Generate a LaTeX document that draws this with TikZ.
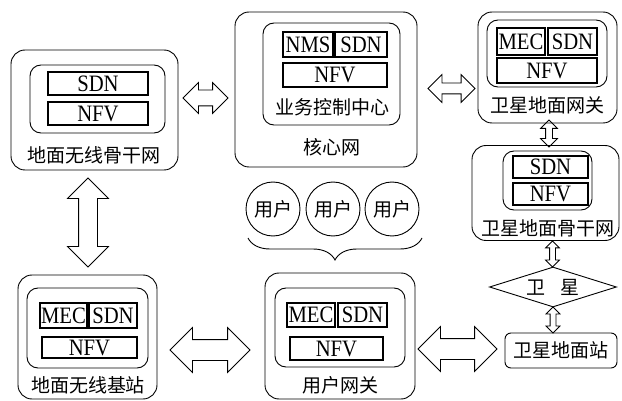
\documentclass[tikz,border=0pt]{standalone}
\usepackage{fontspec}
\setmainfont{Liberation Serif}[FakeStretch=0.88]
\newfontfamily\cjk{Noto Sans CJK SC}
\usetikzlibrary{shapes.arrows,shapes.geometric,decorations.pathreplacing}
\newcommand{\shaft}[1]{\rule{0pt}{#1pt}}
\begin{document}
\begin{tikzpicture}[x=1pt,y=-1pt,
  outerbox/.style={draw, line width=0.9pt, rounded corners=14pt, inner sep=0pt},
  innerbox/.style={draw, line width=0.9pt, rounded corners=11pt, inner sep=0pt},
  tag/.style={draw, line width=1.3pt, inner sep=0pt, font=\fontsize{23.5}{23.5}\selectfont},
  lbl/.style={inner sep=0pt, font=\cjk\fontsize{19}{19}\selectfont},
  user/.style={draw, circle, line width=0.9pt, minimum size=54pt, inner sep=0pt, font=\cjk\fontsize{19}{19}\selectfont},
  darr/.style={draw, line width=0.8pt, double arrow, double arrow tip angle=90, inner sep=0pt}
]
\useasboundingbox (0,0) rectangle (622,401);

% Box 1: ground wireless backbone
\node[outerbox, minimum width=167pt, minimum height=120pt] (b1) at (94.5,110) {};
\node[innerbox, minimum width=135pt, minimum height=68pt] (i1) at (97.5,99) {};
\node[tag, minimum width=100pt, minimum height=23pt] (s1) at (98,83.5) {SDN};
\node[tag, minimum width=100pt, minimum height=23pt] (n1) at (98,113.5) {NFV};
\node[lbl] (l1) at (94,155) {地面无线骨干网};

% Box 2: core network
\node[outerbox, minimum width=182pt, minimum height=155pt] (b2) at (326,89.5) {};
\node[innerbox, minimum width=137pt, minimum height=102pt] (i2) at (331.5,74) {};
\node[tag, minimum width=50pt, minimum height=25pt] (m2) at (308,44.5) {NMS};
\node[tag, minimum width=52pt, minimum height=25pt] (s2) at (361,44.5) {SDN};
\node[tag, minimum width=104pt, minimum height=24pt] (n2) at (335,75) {NFV};
\node[lbl] (c2) at (332,107) {业务控制中心};
\node[lbl] (l2) at (332,147) {核心网};

% Box 3: satellite ground gateway
\node[outerbox, minimum width=139pt, minimum height=111pt] (b3) at (547.5,67.5) {};
\node[innerbox, minimum width=120pt, minimum height=67pt] (i3) at (547,53.5) {};
\node[tag, minimum width=48pt, minimum height=27pt] (m3) at (521,41.5) {MEC};
\node[tag, minimum width=49pt, minimum height=27pt] (s3) at (572.5,41.5) {SDN};
\node[tag, minimum width=100pt, minimum height=25pt] (n3) at (547,70.5) {NFV};
\node[lbl] (l3) at (547,105) {卫星地面网关};

% Box 4: satellite ground backbone
\node[outerbox, minimum width=147pt, minimum height=95pt] (b4) at (545.5,193) {};
\node[innerbox, minimum width=89pt, minimum height=59pt] (i4) at (547.5,180.5) {};
\node[tag, minimum width=75pt, minimum height=22pt] (s4) at (550.5,167) {SDN};
\node[tag, minimum width=75pt, minimum height=22pt] (n4) at (550.5,194) {NFV};
\node[lbl] (l4) at (548,228) {卫星地面骨干网};

% Satellite and ground station
\node[draw, diamond, aspect=3.2, line width=0.9pt, minimum width=127pt, minimum height=40pt, inner sep=0pt, font=\cjk\fontsize{19}{19}\selectfont] (sat) at (553,287) {卫\hspace{0.8em}星};
\node[draw, rounded corners=6pt, line width=0.9pt, minimum width=112pt, minimum height=35pt, inner sep=0pt, font=\cjk\fontsize{19}{19}\selectfont] (gs) at (561,350.5) {卫星地面站};

% Box 5: ground wireless base station
\node[outerbox, minimum width=139pt, minimum height=124pt] (b5) at (87.5,337) {};
\node[innerbox, minimum width=121pt, minimum height=80pt] (i5) at (87.5,328) {};
\node[tag, minimum width=47pt, minimum height=25pt] (m5) at (63.5,315.5) {MEC};
\node[tag, minimum width=48pt, minimum height=25pt] (s5) at (113,315.5) {SDN};
\node[tag, minimum width=95pt, minimum height=21pt] (n5) at (89.5,347.5) {NFV};
\node[lbl] (l5) at (88,385) {地面无线基站};

% Box 6: user gateway
\node[outerbox, minimum width=150pt, minimum height=126pt] (b6) at (340,336) {};
\node[innerbox, minimum width=130pt, minimum height=79pt] (i6) at (340,327.5) {};
\node[tag, minimum width=48pt, minimum height=24pt] (m6) at (311,315) {MEC};
\node[tag, minimum width=49pt, minimum height=24pt] (s6) at (362.5,315) {SDN};
\node[tag, minimum width=93pt, minimum height=23pt] (n6) at (336.5,348.5) {NFV};
\node[lbl] (l6) at (340,385) {用户网关};

% Users
\node[user] (u1) at (273,209) {用户};
\node[user] (u2) at (333,209) {用户};
\node[user] (u3) at (392,209) {用户};
\coordinate (bl) at (248,238);
\coordinate (br) at (422,238);
\draw[decorate, decoration={brace, amplitude=22pt}, line width=0.9pt] (br) -- (bl);

% Double arrows
\node[darr, minimum height=45pt, double arrow head extend=7.5pt] (a12) at (205.5,98) {\shaft{15}};
\node[darr, minimum height=47pt, double arrow head extend=8.5pt] (a23) at (451.5,88.5) {\shaft{10}};
\node[darr, rotate=90, minimum height=27pt, double arrow head extend=5pt] (a34) at (549,133.5) {\shaft{6}};
\node[darr, rotate=90, minimum height=26pt, double arrow head extend=4pt] (a4s) at (552.5,254) {\shaft{5}};
\node[darr, rotate=90, minimum height=26pt, double arrow head extend=4pt] (asg) at (553,320) {\shaft{5}};
\node[darr, rotate=90, minimum height=89pt, double arrow head extend=11pt] (a15) at (88,222.5) {\shaft{18}};
\node[darr, minimum height=80pt, double arrow head extend=12pt] (a56) at (210,350) {\shaft{20}};
\node[darr, minimum height=79pt, double arrow head extend=12pt] (a6g) at (457.5,349) {\shaft{20}};
\end{tikzpicture}
\end{document}
